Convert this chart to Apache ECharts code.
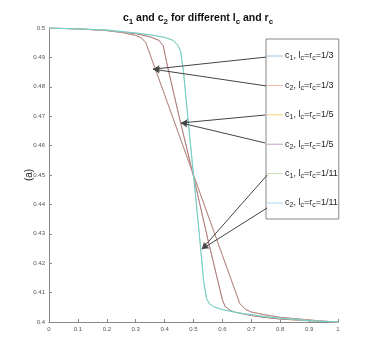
<!DOCTYPE html>
<html>
<head>
<meta charset="utf-8">
<script src="https://cdn.jsdelivr.net/npm/echarts@6/dist/echarts.min.js"></script>
<style>
  html, body { margin: 0; padding: 0; background: #fff; }
  #main { width: 374px; height: 363px; }
</style>
</head>
<body>
<div id="main"></div>
<script>
// values, [x, y] pairs
var curve13 = [[0, 0.5], [0.1, 0.4997], [0.2, 0.4991], [0.25, 0.4985], [0.3, 0.4975], [0.32, 0.4966], [0.335, 0.4950],
  [0.4, 0.4773], [0.5, 0.4500], [0.6, 0.4227], [0.66, 0.4063], [0.68, 0.4043], [0.7, 0.4034], [0.75, 0.4024],
  [0.8, 0.4016], [0.9, 0.4007], [0.95, 0.4003], [1, 0.4]];
var curve15 = [[0, 0.5], [0.1, 0.4997], [0.2, 0.4992], [0.3, 0.4981], [0.35, 0.4970], [0.38, 0.4958], [0.395, 0.4940],
  [0.41, 0.4870], [0.45, 0.4700], [0.5, 0.4495], [0.55, 0.4280], [0.6, 0.4075], [0.61, 0.4052], [0.63, 0.4038],
  [0.65, 0.4032], [0.7, 0.4022], [0.75, 0.4015], [0.8, 0.4010], [0.9, 0.4004], [1, 0.4]];
var curve111 = [[0, 0.5], [0.1, 0.4997], [0.2, 0.4993], [0.3, 0.4983], [0.35, 0.4977], [0.4, 0.4968], [0.43, 0.4958],
  [0.445, 0.4942], [0.455, 0.4922], [0.465, 0.4855], [0.48, 0.4700], [0.5, 0.4500], [0.52, 0.4300], [0.535, 0.4140],
  [0.545, 0.4080], [0.555, 0.4062], [0.57, 0.4052], [0.6, 0.4042], [0.65, 0.4032], [0.7, 0.4025], [0.75, 0.4018],
  [0.8, 0.4013], [0.87, 0.4007], [0.93, 0.4003], [1, 0.4]];

var seriesNames = ['c1, lc=rc=1/3', 'c2, lc=rc=1/3', 'c1, lc=rc=1/5', 'c2, lc=rc=1/5', 'c1, lc=rc=1/11', 'c2, lc=rc=1/11'];
var seriesData = [curve13, curve13, curve15, curve15, curve111, curve111];
var lineColors = ['#9cc4dc', '#c98a78', '#f2cf6a', '#a8789a', '#c6d8a8', '#6ccfd0'];
var legendColors = ['#9cc4dc', '#f0b4a4', '#f5d070', '#c0a0c0', '#c8dcb0', '#a6dcf0'];

// arrows: [from (legend side), to (curve)]
var arrows = [
  [[0.751, 0.4901], [0.360, 0.4860]],
  [[0.751, 0.4803], [0.360, 0.4860]],
  [[0.748, 0.4704], [0.457, 0.4677]],
  [[0.748, 0.4609], [0.457, 0.4677]],
  [[0.755, 0.4500], [0.529, 0.4248]],
  [[0.755, 0.4388], [0.529, 0.4248]]
];

var myChart = echarts.init(document.getElementById('main'));

var series = seriesNames.map(function (name, i) {
  var s = {
    name: name,
    type: 'line',
    data: seriesData[i],
    symbol: 'none',
    lineStyle: { width: 1, color: lineColors[i] },
    itemStyle: { color: lineColors[i] },
    animation: false
  };
  if (i === seriesNames.length - 1) {
    s.markLine = {
      silent: true,
      symbol: ['none', 'arrow'],
      symbolSize: [5, 7],
      label: { show: false },
      lineStyle: { color: '#444', width: 1, type: 'solid' },
      data: arrows.map(function (a) {
        return [{ coord: a[0] }, { coord: a[1] }];
      })
    };
  }
  return s;
});

function richName(name) {
  var m = name.match(/c(\d), lc=rc=(.*)/);
  return 'c{s|' + m[1] + '}, l{s|c}=r{s|c}=' + m[2];
}

var option = {
  animation: false,
  title: {
    text: 'c{s|1} and c{s|2} for different l{s|c} and r{s|c}',
    left: 193,
    textAlign: 'center',
    top: 5,
    textStyle: {
      fontFamily: 'Liberation Sans',
      fontSize: 10.5,
      fontWeight: 'bold',
      color: '#111',
      lineHeight: 16,
      rich: {
        s: { fontSize: 8, fontWeight: 'bold', verticalAlign: 'bottom', lineHeight: 10, color: '#111', fontFamily: 'Liberation Sans' }
      }
    }
  },
  legend: {
    orient: 'vertical',
    left: 266,
    top: 39,
    padding: [11, 1, 10, 1],
    icon: 'path://M0,0 L16,0 L16,1 L0,1 Z',
    itemWidth: 16,
    itemHeight: 1,
    itemGap: 17.4,
    backgroundColor: '#fff',
    borderColor: '#888',
    borderWidth: 1,
    borderRadius: 0,
    data: seriesNames.map(function (n, i) {
      return { name: n, itemStyle: { color: legendColors[i] } };
    }),
    formatter: richName,
    textStyle: {
      fontFamily: 'Liberation Sans',
      fontSize: 9,
      color: '#222',
      lineHeight: 12,
      padding: [0, 0, 0, -3],
      rich: {
        s: { fontSize: 7, verticalAlign: 'bottom', lineHeight: 8, color: '#222', fontFamily: 'Liberation Sans' }
      }
    }
  },
  grid: { left: 49, right: 36, top: 28, bottom: 41, containLabel: false },
  xAxis: {
    type: 'value',
    min: 0,
    max: 1,
    interval: 0.1,
    axisLine: { show: true, lineStyle: { color: '#888', width: 1 } },
    axisTick: { show: true, inside: true, length: 3, lineStyle: { color: '#888' } },
    splitLine: { show: false },
    axisLabel: {
      fontFamily: 'Liberation Sans', fontSize: 6, color: '#555', margin: 4,
      formatter: function (v) { return String(Math.round(v * 10) / 10); }
    }
  },
  yAxis: {
    type: 'value',
    min: 0.4,
    max: 0.5,
    interval: 0.01,
    name: '(a)',
    nameLocation: 'middle',
    nameGap: 15,
    nameMoveOverlap: false,
    nameRotate: 90,
    nameTextStyle: { fontFamily: 'Liberation Sans', fontSize: 10, color: '#222' },
    axisLine: { show: true, lineStyle: { color: '#888', width: 1 } },
    axisTick: { show: true, inside: true, length: 3, lineStyle: { color: '#888' } },
    splitLine: { show: false },
    axisLabel: {
      fontFamily: 'Liberation Sans', fontSize: 6, color: '#555', margin: 4,
      formatter: function (v) { return String(Math.round(v * 100) / 100); }
    }
  },
  series: series
};

myChart.setOption(option);
</script>
</body>
</html>
